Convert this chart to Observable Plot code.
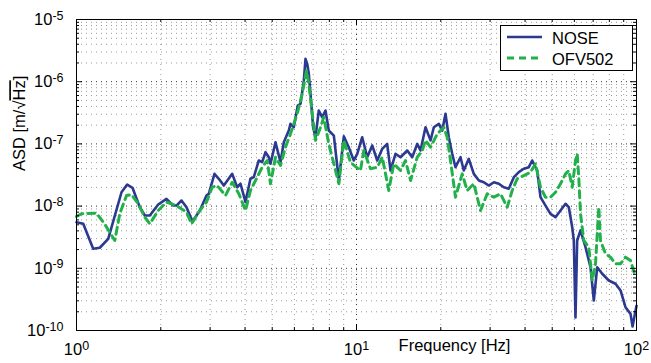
<!DOCTYPE html>
<html>
<head>
<meta charset="utf-8">
<script src="https://cdn.jsdelivr.net/npm/d3@7"></script>
<script src="https://cdn.jsdelivr.net/npm/@observablehq/plot@0.6"></script>
<style>
  body { margin: 0; background: #fff; }
  #chart { width: 651px; height: 363px; }
</style>
</head>
<body>
<div id="chart"></div>
<script>
// Displacement amplitude spectral density, two sensors
const seriesNames = ["NOSE", "OFV502"];
const seriesColors = ["#2b3990", "#22b04b"];

// NOSE: frequency [Hz]
const noseFreq = [
  1.00, 1.057, 1.147, 1.211, 1.298, 1.448, 1.517, 1.585, 1.683, 1.754,
  1.827, 1.958, 2.096, 2.215, 2.276, 2.371, 2.471, 2.596, 2.757, 2.912,
  2.968, 3.11, 3.223, 3.358, 3.598, 3.749, 3.853, 4.014, 4.18, 4.297,
  4.478, 4.604, 4.732, 4.862, 4.93, 5.137, 5.354, 5.501, 5.73, 5.81,
  5.97, 6.17, 6.31, 6.485, 6.575, 6.667, 6.755, 6.85, 7.00, 7.137,
  7.334, 7.54, 7.75, 7.96, 8.30, 8.65, 9.01, 9.39, 9.78, 10.06,
  10.48, 10.92, 11.38, 11.86, 12.36, 12.87, 13.23, 13.78, 14.36, 15.18,
  15.81, 16.48, 16.93, 17.64, 18.38, 18.89, 19.68, 20.24, 20.79, 21.36,
  21.97, 22.57, 23.52, 24.16, 25.18, 26.24, 27.35, 28.49, 29.69, 30.94,
  32.23, 33.58, 34.99, 36.47, 37.99, 39.58, 41.25, 42.41, 44.19, 45.41,
  47.32, 49.30, 51.37, 53.53, 55.78, 57.31, 58.94, 59.72, 60.55, 61.40,
  63.10, 65.75, 68.51, 70.40, 72.39, 75.42, 79.62, 84.14, 87.7, 91.35,
  95.2, 96.8, 100
];
// NOSE: ASD [m/sqrt(Hz)]
const noseAsd = [
  5.51e-9, 5.19e-9, 2.06e-9, 2.14e-9, 2.98e-9, 1.67e-8, 2.22e-8, 1.97e-8, 9.6e-9, 7.06e-9,
  7.06e-9, 1.06e-8, 1.31e-8, 1.02e-8, 1.02e-8, 1.23e-8, 9.6e-9, 5.65e-9, 8.49e-9, 1.48e-8,
  1.58e-8, 3.30e-8, 2.75e-8, 2.14e-8, 3.30e-8, 2.01e-8, 2.29e-8, 1.16e-8, 2.75e-8, 2.92e-8,
  5.41e-8, 5.08e-8, 7.36e-8, 6.11e-8, 4.79e-8, 1.06e-7, 5.08e-8, 1.06e-7, 1.64e-7, 2.10e-7,
  1.85e-7, 4.14e-7, 4.42e-7, 1.04e-6, 2.33e-6, 1.94e-6, 1.34e-6, 6.38e-7, 1.85e-7, 1.28e-7,
  3.44e-7, 2.69e-7, 3.44e-7, 1.64e-7, 1.36e-7, 2.58e-8, 1.32e-7, 8.75e-8, 5.41e-8, 6.93e-8,
  1.28e-7, 6.11e-8, 9.42e-8, 5.41e-8, 8.34e-8, 1.00e-7, 3.73e-8, 6.93e-8, 6.11e-8, 7.83e-8,
  6.11e-8, 1.00e-7, 7.83e-8, 1.85e-7, 1.14e-7, 1.85e-7, 2.10e-7, 1.64e-7, 3.05e-7, 1.28e-7,
  6.93e-8, 4.22e-8, 6.11e-8, 3.73e-8, 5.75e-8, 3.30e-8, 2.58e-8, 2.42e-8, 2.14e-8, 2.42e-8,
  2.29e-8, 2.01e-8, 1.90e-8, 2.92e-8, 3.51e-8, 3.98e-8, 4.22e-8, 5.41e-8, 3.73e-8, 1.39e-8,
  1.02e-8, 7.52e-9, 6.64e-9, 8.49e-9, 1.09e-8, 9.6e-9, 4.58e-9, 2.80e-9, 1.62e-10, 2.80e-9,
  4.06e-9, 2.18e-9, 1.04e-9, 3.03e-10, 1.04e-9, 8.17e-10, 6.37e-10, 5.64e-10, 4.40e-10, 2.37e-10,
  1.85e-10, 1.16e-10, 2.5e-10
];

// OFV502: frequency [Hz]
const ofvFreq = [
  1.00, 1.042, 1.179, 1.259, 1.370, 1.428, 1.509, 1.572, 1.661, 1.754,
  1.827, 1.958, 2.096, 2.276, 2.471, 2.575, 2.757, 2.912, 3.052, 3.18,
  3.405, 3.598, 3.80, 4.014, 4.18, 4.42, 4.604, 4.80, 4.93, 5.137,
  5.354, 5.577, 5.81, 6.14, 6.40, 6.63, 6.755, 6.95, 7.137, 7.44,
  7.64, 7.96, 8.65, 9.01, 9.52, 10.33, 10.62, 11.22, 11.86, 12.36,
  13.04, 13.59, 14.36, 14.96, 15.60, 16.48, 17.17, 17.64, 18.38, 19.43,
  20.50, 21.08, 21.66, 22.57, 23.85, 24.85, 26.24, 27.73, 29.30, 30.94,
  32.69, 34.53, 35.98, 37.49, 39.58, 41.82, 43.58, 45.41, 47.32, 49.30,
  51.37, 53.53, 55.78, 57.31, 58.94, 60.55, 61.40, 62.2, 63.10, 64.84,
  67.56, 69.48, 71.39, 73.35, 74.36, 77.5, 80.75, 84.14, 87.7, 91.35,
  95.2, 99.2
];
// OFV502: ASD [m/sqrt(Hz)]
const ofvAsd = [
  6.81e-9, 7.52e-9, 7.69e-9, 5.19e-9, 2.80e-9, 7.60e-9, 1.48e-8, 1.53e-8, 1.09e-8, 6.64e-9,
  5.19e-9, 8.49e-9, 1.16e-8, 1.02e-8, 7.98e-9, 5.19e-9, 8.49e-9, 1.16e-8, 2.01e-8, 2.14e-8,
  1.48e-8, 2.42e-8, 1.58e-8, 8.49e-9, 1.78e-8, 2.92e-8, 4.22e-8, 5.41e-8, 2.29e-8, 6.11e-8,
  4.50e-8, 8.85e-8, 1.45e-7, 3.05e-7, 6.38e-7, 1.51e-6, 9.25e-7, 3.05e-7, 1.14e-7, 1.85e-7,
  2.69e-7, 1.00e-7, 2.29e-8, 1.14e-7, 5.02e-8, 3.73e-8, 7.83e-8, 3.98e-8, 4.22e-8, 6.11e-8,
  1.78e-8, 4.79e-8, 3.73e-8, 5.41e-8, 2.58e-8, 6.11e-8, 7.83e-8, 1.14e-7, 8.85e-8, 1.45e-7,
  1.85e-7, 1.28e-7, 5.41e-8, 1.39e-8, 3.30e-8, 1.78e-8, 2.29e-8, 8.49e-9, 1.58e-8, 1.39e-8,
  1.58e-8, 9.6e-9, 1.78e-8, 2.75e-8, 3.10e-8, 3.51e-8, 4.79e-8, 2.01e-8, 1.39e-8, 1.39e-8,
  1.67e-8, 2.29e-8, 3.30e-8, 3.73e-8, 2.01e-8, 5.41e-8, 6.93e-8, 2.92e-8, 7.52e-9, 2.80e-9,
  2.18e-9, 6.37e-10, 1.18e-9, 9.6e-9, 2.80e-9, 1.71e-9, 1.51e-9, 1.18e-9, 1.18e-9, 1.51e-9,
  1.33e-9, 7.28e-10
];

// Axis decades and their labels
const xMajor = [1, 10, 100];
const yMajor = [1e-10, 1e-9, 1e-8, 1e-7, 1e-6, 1e-5];
const xLabels = ["10^0", "10^1", "10^2"];
const yLabels = ["10^-10", "10^-9", "10^-8", "10^-7", "10^-6", "10^-5"];
const xTitle = "Frequency [Hz]";
const yTitle = "ASD [m/√Hz]";

// Minor log ticks (2..9 within each decade)
const minorOf = (majors) => majors.slice(0, -1).flatMap(d => [2,3,4,5,6,7,8,9].map(k => d * k));
const xMinor = minorOf(xMajor);
const yMinor = minorOf(yMajor);

const nose = noseFreq.map((f, i) => ({f, asd: noseAsd[i]}));
const ofv = ofvFreq.map((f, i) => ({f, asd: ofvAsd[i]}));

const W = 651, H = 363;
const mL = 76, mR = 15, mT = 19, mB = 33;
const innerW = W - mL - mR, innerH = H - mT - mB;
const majorLen = 6, minorLen = 3;

const gridMinor = {stroke: "#9a9a9a", strokeWidth: 1, strokeDasharray: "1,4"};
const gridMajor = {stroke: "#333", strokeWidth: 1, strokeDasharray: "1,4"};
const tickStyle = {stroke: "#000", strokeWidth: 1};

const chart = Plot.plot({
  width: W, height: H,
  marginLeft: mL, marginRight: mR, marginTop: mT, marginBottom: mB,
  style: {fontFamily: "'Liberation Sans', Arial, Helvetica, sans-serif", fontSize: "16.5px", background: "#fff", color: "#000"},
  x: {type: "log", domain: [1, 100]},
  y: {type: "log", domain: [1e-10, 1e-5]},
  marks: [
    // dotted grid
    Plot.ruleX(xMinor, gridMinor),
    Plot.ruleY(yMinor, gridMinor),
    Plot.ruleX(xMajor, gridMajor),
    Plot.ruleY(yMajor, gridMajor),
    // data
    Plot.line(nose, {x: "f", y: "asd", stroke: seriesColors[0], strokeWidth: 2.6, strokeLinejoin: "round"}),
    Plot.line(ofv, {x: "f", y: "asd", stroke: seriesColors[1], strokeWidth: 3, strokeDasharray: "7,5"}),
    // inward ticks on all four sides
    Plot.ruleX(xMajor, {...tickStyle, insetTop: innerH - majorLen}),
    Plot.ruleX(xMajor, {...tickStyle, insetBottom: innerH - majorLen}),
    Plot.ruleX(xMinor, {...tickStyle, insetTop: innerH - minorLen}),
    Plot.ruleX(xMinor, {...tickStyle, insetBottom: innerH - minorLen}),
    Plot.ruleY(yMajor, {...tickStyle, insetRight: innerW - majorLen}),
    Plot.ruleY(yMajor, {...tickStyle, insetLeft: innerW - majorLen}),
    Plot.ruleY(yMinor, {...tickStyle, insetRight: innerW - minorLen}),
    Plot.ruleY(yMinor, {...tickStyle, insetLeft: innerW - minorLen}),
    Plot.frame({stroke: "#000", strokeWidth: 1}),
    // tick labels
    Plot.axisX({ticks: xMajor, tickSize: 0, tickPadding: 13, label: null,
      tickFormat: d => xLabels[xMajor.indexOf(d)], fontSize: 16.5}),
    Plot.axisY({ticks: yMajor, tickSize: 0, tickPadding: 13, label: null,
      tickFormat: d => yLabels[yMajor.indexOf(d)], fontSize: 16.5}),
    // axis titles
    Plot.text([xTitle], {frameAnchor: "bottom", dx: 98, dy: 20, fontSize: 16.5, fill: "#000"}),
    Plot.text([yTitle], {frameAnchor: "left", dx: -56.5, dy: -4, rotate: -90, fontSize: 16.5, fill: "#000"})
  ]
});

const svg = d3.select(chart);

// Exponents as raised, smaller text
svg.selectAll('g[aria-label$="tick label"] text').each(function () {
  const s = this.textContent;
  if (!s.includes("^")) return;
  const [base, exp] = s.split("^");
  const t = d3.select(this);
  t.text(null);
  t.append("tspan").text(base);
  t.append("tspan").attr("dy", "-0.42em").attr("font-size", "12.5px").text(exp);
});

// Overbar of the square root in the y title
svg.selectAll("text").each(function () {
  if (this.textContent !== yTitle) return;
  const t = d3.select(this);
  t.text(null);
  t.append("tspan").text("ASD [m/√");
  t.append("tspan").style("text-decoration", "overline").text("Hz");
  t.append("tspan").text("]");
});

// Legend box
const lg = svg.append("g").attr("font-size", "16.5px").attr("text-anchor", "start");
lg.append("rect").attr("x", 500.5).attr("y", 25.5).attr("width", 132).attr("height", 45)
  .attr("fill", "#fff").attr("stroke", "#000").attr("stroke-width", 1);
seriesNames.forEach((name, i) => {
  const cy = 37 + i * 21;
  lg.append("line").attr("x1", 507).attr("x2", 542).attr("y1", cy).attr("y2", cy)
    .attr("stroke", seriesColors[i]).attr("stroke-width", i === 0 ? 2.6 : 3)
    .attr("stroke-dasharray", i === 0 ? null : "7,5");
  lg.append("text").attr("x", 552).attr("y", cy + 7).attr("fill", "#000")
    .attr("text-anchor", "start").text(name);
});

document.getElementById("chart").append(chart);
</script>
</body>
</html>
